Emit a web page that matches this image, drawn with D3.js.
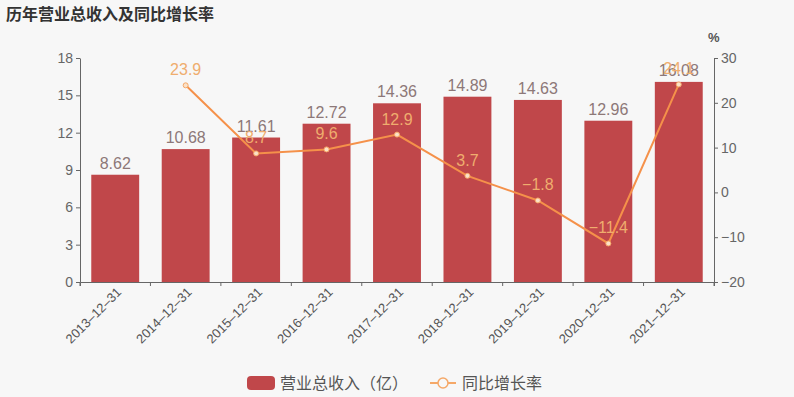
<!DOCTYPE html>
<html>
<head>
<meta charset="utf-8">
<script src="https://cdn.jsdelivr.net/npm/d3@7"></script>
<style>
body { margin: 0; background: #f7f7f7; }
svg { display: block; font-family: "Liberation Sans", "Noto Sans CJK SC", sans-serif; }
</style>
</head>
<body>
<div id="chart"></div>
<script>
// data
var dates = ["2013-12-31", "2014-12-31", "2015-12-31", "2016-12-31", "2017-12-31",
             "2018-12-31", "2019-12-31", "2020-12-31", "2021-12-31"];
var revenue = [8.62, 10.68, 11.61, 12.72, 14.36, 14.89, 14.63, 12.96, 16.08];
var growth = [null, 23.9, 8.7, 9.6, 12.9, 3.7, -1.8, -11.4, 24.1];
var leftTicks = [0, 3, 6, 9, 12, 15, 18];
var rightTicks = [-20, -10, 0, 10, 20, 30];

var width = 794, height = 397;
var margin = {top: 58, right: 80, bottom: 115, left: 80};
var w = width - margin.left - margin.right,
    h = height - margin.top - margin.bottom;

var svg = d3.select("#chart").append("svg")
    .attr("width", width)
    .attr("height", height);

svg.append("rect").attr("width", width).attr("height", height).attr("fill", "#f7f7f7");

// title
svg.append("text")
    .attr("x", 6).attr("y", 20)
    .style("font-size", "16px")
    .style("font-weight", "bold")
    .style("font-family", "'Noto Sans CJK SC', sans-serif")
    .attr("fill", "#333")
    .text("历年营业总收入及同比增长率");

var g = svg.append("g").attr("transform", "translate(" + margin.left + "," + margin.top + ")");

var x = d3.scaleBand().domain(dates).range([0, w]).paddingInner(0.32).paddingOuter(0.16);
var xt = d3.scaleBand().domain(dates).range([0, w]);
var y = d3.scaleLinear().domain([0, 18]).range([h, 0]);
var y2 = d3.scaleLinear().domain([-20, 30]).range([h, 0]);

// bars
g.selectAll(".bar").data(revenue).enter().append("rect")
    .attr("x", function(d, i) { return x(dates[i]); })
    .attr("y", function(d) { return y(d); })
    .attr("width", x.bandwidth())
    .attr("height", function(d) { return h - y(d); })
    .attr("fill", "#c0474a");

// bar labels
g.selectAll(".blabel").data(revenue).enter().append("text")
    .attr("x", function(d, i) { return x(dates[i]) + x.bandwidth() / 2; })
    .attr("y", function(d) { return y(d) - 6; })
    .attr("text-anchor", "middle")
    .style("font-size", "16px")
    .attr("fill", "#8d7878")
    .text(function(d) { return d; });

// axes
var axisColor = "#666";
var xAxis = g.append("g")
    .attr("transform", "translate(0," + h + ")")
    .call(d3.axisBottom(xt).tickSizeOuter(0).tickSize(4).tickFormat(""));
// ticks at band edges
xAxis.selectAll(".tick").remove();
xAxis.selectAll(".edge").data(d3.range(dates.length + 1)).enter().append("line")
    .attr("x1", function(i) { return i * xt.step(); })
    .attr("x2", function(i) { return i * xt.step(); })
    .attr("y1", 0).attr("y2", 4)
    .attr("stroke", axisColor);

g.selectAll(".xlabel").data(dates).enter().append("text")
    .attr("transform", function(d) {
        return "translate(" + (xt(d) + xt.bandwidth() / 2 + 7) + "," + (h + 11) + ") rotate(-45)";
    })
    .attr("text-anchor", "end")
    .style("font-size", "13px")
    .attr("fill", "#555")
    .text(function(d) { return d.replace(/-/g, "\u2013"); });

var yAxis = g.append("g")
    .call(d3.axisLeft(y).tickValues(leftTicks).tickSize(4).tickSizeOuter(0));
yAxis.selectAll("text").style("font-size", "14px").attr("fill", "#666");

var yAxis2 = g.append("g")
    .attr("transform", "translate(" + w + ",0)")
    .call(d3.axisRight(y2).tickValues(rightTicks).tickSize(4).tickSizeOuter(0)
        .tickFormat(function(d) { return d < 0 ? "\u2212" + Math.abs(d) : d; }));
yAxis2.selectAll("text").style("font-size", "14px").attr("fill", "#666");

[xAxis, yAxis, yAxis2].forEach(function(a) {
    a.selectAll("path, line").attr("stroke", axisColor);
});

svg.append("text")
    .attr("x", margin.left + w - 6).attr("y", 42)
    .style("font-size", "13px").style("font-weight", "bold")
    .attr("fill", "#555").text("%");

// growth line
var pts = growth.map(function(d, i) { return {d: dates[i], v: d}; })
    .filter(function(p) { return p.v !== null; });

var line = d3.line()
    .x(function(p) { return x(p.d) + x.bandwidth() / 2; })
    .y(function(p) { return y2(p.v); });

g.append("path")
    .datum(pts)
    .attr("d", line)
    .attr("fill", "none")
    .attr("stroke", "#f5914a")
    .attr("stroke-width", 2);

g.selectAll(".dot").data(pts).enter().append("circle")
    .attr("cx", function(p) { return x(p.d) + x.bandwidth() / 2; })
    .attr("cy", function(p) { return y2(p.v); })
    .attr("r", 2.5)
    .attr("fill", "#fbe2c8")
    .attr("stroke", "#f5a868")
    .attr("stroke-width", 1);

g.selectAll(".glabel").data(pts).enter().append("text")
    .attr("x", function(p) { return x(p.d) + x.bandwidth() / 2; })
    .attr("y", function(p) { return y2(p.v) - 10; })
    .attr("text-anchor", "middle")
    .style("font-size", "16px")
    .attr("fill", "#efad6e")
    .text(function(p) { return p.v < 0 ? "\u2212" + Math.abs(p.v) : p.v; });

// legend
var lg = svg.append("g").attr("transform", "translate(247,383)")
    .style("font-family", "'Noto Sans CJK SC', sans-serif");
lg.append("rect").attr("x", 0).attr("y", -7).attr("width", 28).attr("height", 14)
    .attr("rx", 4).attr("fill", "#c0474a");
lg.append("text").attr("x", 33).attr("y", 6)
    .style("font-size", "16px").attr("fill", "#555").text("营业总收入（亿）");
lg.append("line").attr("x1", 183).attr("x2", 209).attr("y1", 0).attr("y2", 0)
    .attr("stroke", "#f5a868").attr("stroke-width", 2);
lg.append("circle").attr("cx", 196).attr("cy", 0).attr("r", 5)
    .attr("fill", "#f7f7f7").attr("stroke", "#f5a868").attr("stroke-width", 1.5);
lg.append("text").attr("x", 215).attr("y", 6)
    .style("font-size", "16px").attr("fill", "#555").text("同比增长率");
</script>
</body>
</html>
